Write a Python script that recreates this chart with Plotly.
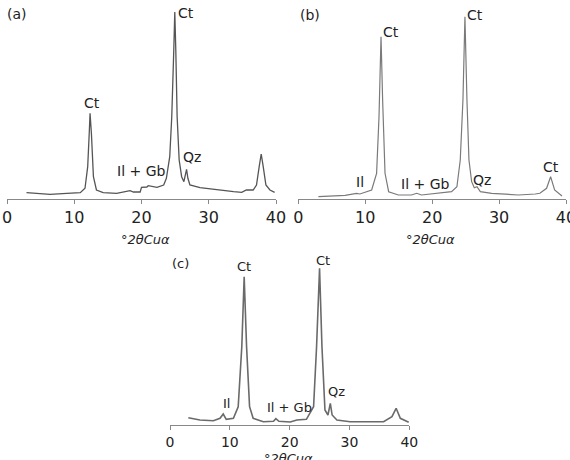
import plotly.graph_objects as go

# ---- data: XRD patterns (2theta, relative intensity) ----
a_2theta = [2.9, 6.4, 8.9, 10.9, 11.6, 12.0, 12.25, 12.35, 12.55, 12.85, 13.3, 14.3, 16.3, 17.5, 18.3, 18.8,
            19.8, 20.0, 20.8, 21.0, 22.3, 23.3, 23.7, 24.2, 24.5, 24.8, 24.95, 25.1, 25.3, 25.6, 25.97, 26.3,
            26.6, 26.7, 26.9, 27.2, 28.7, 31.2, 33.7, 34.9, 35.6, 36.6, 37.1, 37.5, 37.8, 38.1, 38.5, 39.1, 39.8]
a_int = [6.3, 4.7, 5.7, 6.3, 10.7, 32.3, 69, 85.7, 65.7, 22.3, 9, 6.3, 5.7, 7, 8.3, 7,
         7, 11.7, 12, 13.3, 11.7, 14, 20.7, 42.3, 82.3, 149, 187, 149, 82.3, 39, 22.3, 17.3,
         25.7, 29.7, 20.7, 14, 11.3, 9, 7.3, 6.7, 9, 9, 14, 32.3, 45, 32.3, 14, 9, 6.7]

b_2theta = [3.0, 7.0, 8.7, 9.2, 10.96, 11.7, 12.06, 12.36, 12.6, 12.96, 13.5, 14.95, 16.9, 17.7, 18.4, 19.9,
            21.4, 22.9, 23.7, 24.2, 24.6, 24.9, 25.2, 25.5, 25.9, 26.3, 26.7, 27.2, 28.9, 32.9, 35.4, 36.1,
            37.1, 37.7, 38.3, 39.4]
b_int = [2.3, 3.7, 5.7, 5, 9, 25.7, 82.3, 162.3, 99, 25.7, 7.3, 4, 4, 5.7, 4, 5,
         5.7, 7.3, 12.3, 39, 99, 182.3, 99, 39, 17.3, 11.3, 12.3, 7.3, 5.7, 4, 5, 5.7,
         10.7, 22.3, 9, 3]

c_2theta = [3.06, 5.0, 7.25, 8.36, 8.9, 9.4, 10.6, 11.4, 12.0, 12.4, 12.8, 13.3, 13.9, 15.6, 17.3, 17.7,
            18.2, 20.1, 21.2, 22.8, 24.0, 24.5, 25.0, 25.4, 25.9, 26.4, 26.8, 27.1, 27.9, 30.1, 35.7, 37.1,
            37.8, 38.5, 39.9]
c_int = [7.3, 5, 4.3, 6.7, 11, 5.7, 6.7, 18.3, 78.3, 148.3, 78.3, 18.3, 6.7, 3.3, 3.7, 6.3,
         3.7, 3, 5, 5.7, 18.3, 78.3, 156.7, 78.3, 15, 10, 21.7, 10, 5, 3.3, 3.3, 8.3,
         16.7, 6.7, 2.7]

tick_vals = [0, 10, 20, 30, 40]
axis_title = "°<i>2θCuα</i>"

# peak labels: (text, 2theta, intensity)
a_labels = [("(a)", 1.56, 185), ("Ct", 12.6, 96), ("Ct", 26.6, 186), ("Il + Gb", 19.9, 28), ("Qz", 27.5, 42)]
b_labels = [("(b)", 1.75, 184), ("Ct", 13.86, 167), ("Ct", 26.4, 184), ("Il", 9.2, 17.3),
            ("Il + Gb", 19.0, 14.7), ("Qz", 27.5, 19), ("Ct", 37.7, 32.3)]
c_labels = [("(c)", 1.78, 161.7), ("Ct", 12.4, 158.3), ("Ct", 25.5, 165), ("Il", 9.4, 21.7),
            ("Il + Gb", 19.9, 17.3), ("Qz", 27.9, 33.3)]

W, H = 570, 460
FONT = "DejaVu Sans"

fig = go.Figure()
fig.add_trace(go.Scatter(x=a_2theta, y=a_int, mode="lines", line=dict(color="#555555", width=1.3),
                         xaxis="x", yaxis="y", showlegend=False, hoverinfo="skip"))
fig.add_trace(go.Scatter(x=b_2theta, y=b_int, mode="lines", line=dict(color="#7a7a7a", width=1.2),
                         xaxis="x2", yaxis="y2", showlegend=False, hoverinfo="skip"))
fig.add_trace(go.Scatter(x=c_2theta, y=c_int, mode="lines", line=dict(color="#6a6a6a", width=1.6),
                         xaxis="x3", yaxis="y3", showlegend=False, hoverinfo="skip"))

def xax(domain, anchor, size):
    return dict(domain=domain, anchor=anchor, range=[0, 40], tickvals=tick_vals, ticks="outside",
                ticklen=4, tickwidth=1, tickcolor="#888888", showline=True, linecolor="#888888",
                linewidth=1, showgrid=False, zeroline=False, automargin=False,
                ticklabeloverflow="allow",
                tickfont=dict(family=FONT, size=size, color="#222"))

def yax(domain, anchor, top):
    return dict(domain=domain, anchor=anchor, range=[0, top], visible=False, fixedrange=True,
                automargin=False)

fig.update_layout(
    width=W, height=H, margin=dict(l=0, r=0, t=0, b=0, autoexpand=False),
    paper_bgcolor="white", plot_bgcolor="white",
    xaxis=xax([7 / W, 276 / W], "y", 16),
    yaxis=yax([(H - 199) / H, (H - 10) / H], "x", 189),
    xaxis2=xax([298.3 / W, 566 / W], "y2", 16),
    yaxis2=yax([(H - 199) / H, (H - 10) / H], "x2", 189),
    xaxis3=xax([170 / W, 409.3 / W], "y3", 14),
    yaxis3=yax([(H - 425) / H, (H - 235) / H], "x3", 190),
)

anns = []
for labels, xr, yr, size in [(a_labels, "x", "y", 14), (b_labels, "x2", "y2", 14), (c_labels, "x3", "y3", 13)]:
    for txt, xv, yv in labels:
        anns.append(dict(text=txt, x=xv, y=yv, xref=xr, yref=yr, showarrow=False,
                         font=dict(family=FONT, size=size, color="#222"), xanchor="center", yanchor="middle"))
# axis titles
for xc, yc in [(145, 239), (430, 239), (288, 458)]:
    anns.append(dict(text=axis_title, x=xc / W, y=(H - yc) / H, xref="paper", yref="paper", showarrow=False,
                     font=dict(family=FONT, size=13, color="#222"), xanchor="center", yanchor="middle"))
fig.update_layout(annotations=anns)

fig.write_html("out.html")
